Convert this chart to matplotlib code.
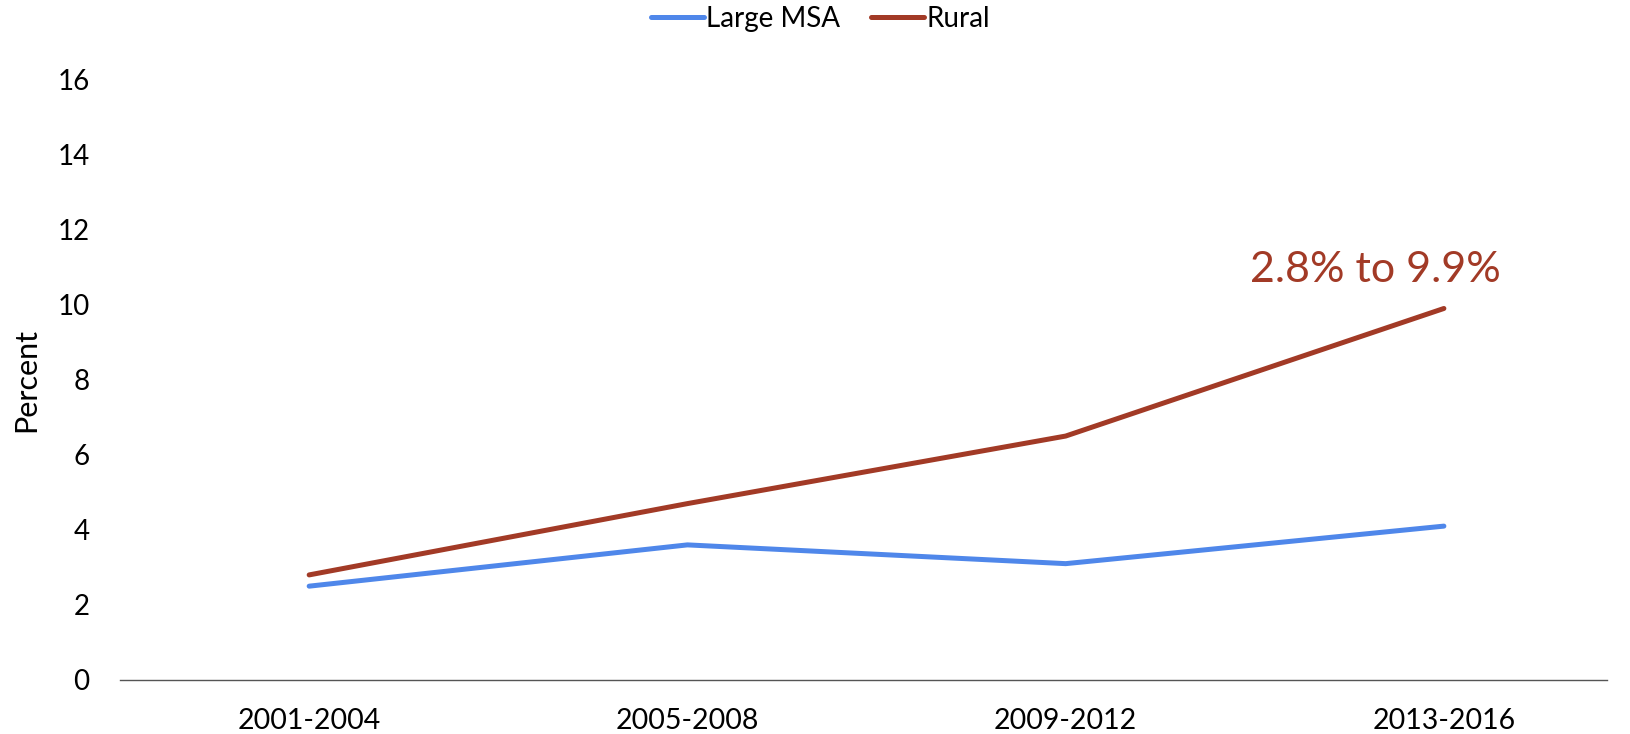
import matplotlib
matplotlib.use("Agg")
import matplotlib.pyplot as plt

# data
periods = ["2001-2004", "2005-2008", "2009-2012", "2013-2016"]
large_msa = [2.5, 3.6, 3.1, 4.1]
rural = [2.8, 4.7, 6.5, 9.9]
yticks = [0, 2, 4, 6, 8, 10, 12, 14, 16]

plt.rcParams['font.family'] = ['Lato', 'DejaVu Sans']

fig = plt.figure(figsize=(16.31, 7.34), dpi=100)
ax = fig.add_axes([0.0736, 0.0736, 0.9114, 0.818])

x = range(len(periods))
ax.plot(x, large_msa, color='#4F87EA', lw=3.6, label='Large MSA', solid_capstyle='round')
ax.plot(x, rural, color='#A23A26', lw=3.6, label='Rural', solid_capstyle='round')

ax.text(2.82, 10.6, "2.8% to 9.9%", color='#A23A26', fontsize=31,
        ha='center', va='baseline')

ax.set_xlim(-0.5, 3.43)
ax.set_ylim(0, 16)
ax.set_yticks(yticks)
ax.set_xticks(list(x))
ax.set_xticklabels(periods)
ax.tick_params(axis='x', length=0, labelsize=20.5, pad=20)
ax.tick_params(axis='y', length=0, labelsize=20, pad=22)
ax.set_ylabel("Percent", fontsize=22, labelpad=12)

for s in ['top', 'right', 'left']:
    ax.spines[s].set_visible(False)
ax.spines['bottom'].set_color('#555555')
ax.spines['bottom'].set_linewidth(1)

fig.legend(*ax.get_legend_handles_labels(), loc='upper center',
           bbox_to_anchor=(0.503, 1.026), ncol=2, frameon=False,
           fontsize=20, handlelength=1.9, handletextpad=0.1, columnspacing=1.1)

fig.savefig("out.png", dpi=100)
